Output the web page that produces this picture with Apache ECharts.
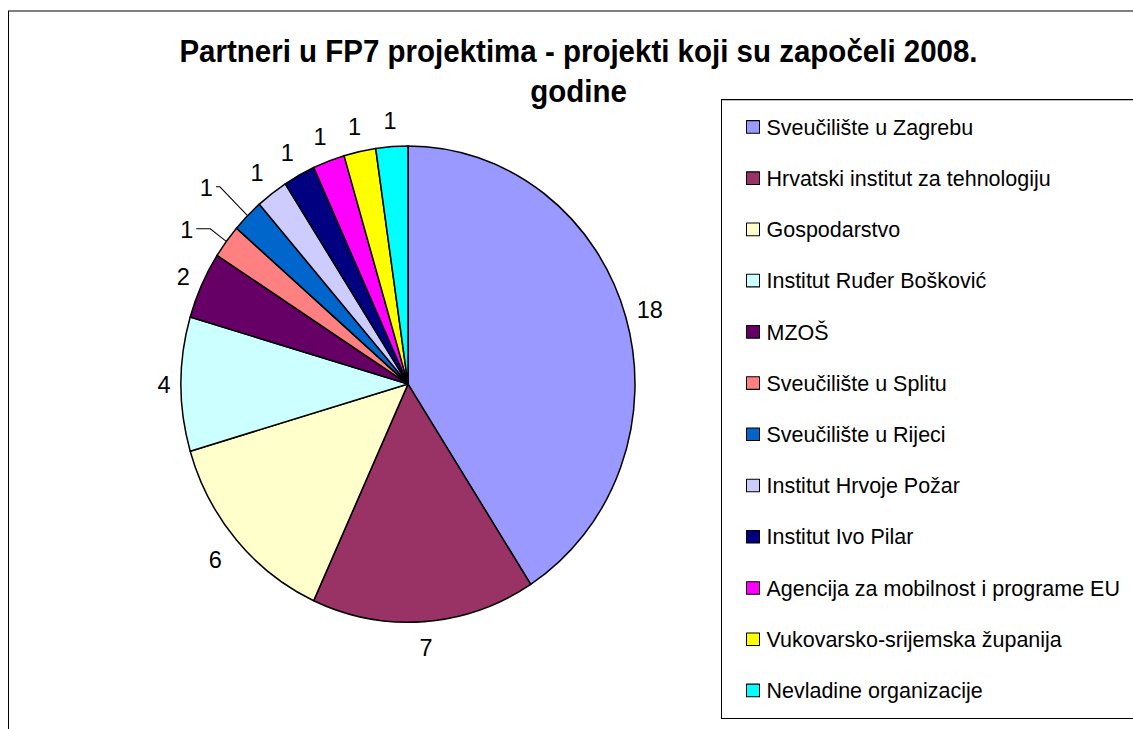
<!DOCTYPE html>
<html>
<head>
<meta charset="utf-8">
<title>Partneri u FP7 projektima</title>
<script src="https://cdn.jsdelivr.net/npm/echarts@6/dist/echarts.min.js"></script>
<style>
  html { overflow: hidden; }
  html, body { margin: 0; padding: 0; background: #fff; }
  body { height: 729px; }
  /* the original picture is stretched a little in height, so the chart is too */
  #main { width: 1133px; height: 695px; transform: scaleY(1.0489); transform-origin: 0 0; }
</style>
</head>
<body>
<div id="main"></div>
<script>
// data
var partners = ['Sveučilište u Zagrebu', 'Hrvatski institut za tehnologiju', 'Gospodarstvo',
  'Institut Ruđer Bošković', 'MZOŠ', 'Sveučilište u Splitu', 'Sveučilište u Rijeci',
  'Institut Hrvoje Požar', 'Institut Ivo Pilar', 'Agencija za mobilnost i programe EU',
  'Vukovarsko-srijemska županija', 'Nevladine organizacije'];
var counts = [18, 7, 6, 4, 2, 1, 1, 1, 1, 1, 1, 1];
var colors = ['#9999FF', '#993366', '#FFFFCC', '#CCFFFF', '#660066', '#FF8080',
  '#0066CC', '#CCCCFF', '#000080', '#FF00FF', '#FFFF00', '#00FFFF'];

// label placement tweaks (style only)
var leaderLines = {
  'Sveučilište u Splitu': { length: 20, length2: 14 },
  'Sveučilište u Rijeci': { length: 39, length2: 4 }
};
var labelGap = { 'Institut Ruđer Bošković': 17, 'MZOŠ': 20, 'Gospodarstvo': 28 };

var font = 'Liberation Sans, Arial, sans-serif';
var myChart = echarts.init(document.getElementById('main'), null, { renderer: 'svg' });

var seriesData = partners.map(function (name, i) {
  var item = { name: name, value: counts[i] };
  if (leaderLines[name]) {
    item.labelLine = { show: true, length: leaderLines[name].length, length2: leaderLines[name].length2 };
    item.label = { distanceToLabelLine: 3 };
  } else {
    item.labelLine = { length: labelGap[name] || 25, length2: 0 };
  }
  return item;
});

var option = {
  color: colors,
  animation: false,
  textStyle: { fontFamily: font },
  title: [{
    text: 'Partneri u FP7 projektima - projekti koji su započeli 2008.\ngodine',
    left: 578.5,
    textAlign: 'center',
    top: 30,
    padding: 0,
    textStyle: { fontSize: 29.5, fontWeight: 'bold', color: '#000', lineHeight: 38, fontFamily: font }
  }],
  graphic: [
    {
      type: 'rect',
      shape: { x: 8.5, y: 10.5, width: 1140, height: 720 },
      style: { fill: 'none', stroke: '#000', lineWidth: 1 },
      silent: true
    },
    {
      type: 'rect',
      shape: { x: 721.5, y: 95, width: 430, height: 590 },
      style: { fill: 'none', stroke: '#000', lineWidth: 1 },
      silent: true
    }
  ],
  legend: {
    orient: 'vertical',
    left: 741,
    top: 105,
    icon: 'rect',
    itemWidth: 13,
    itemHeight: 12,
    itemGap: 26.84,
    data: partners,
    itemStyle: { borderColor: '#000', borderWidth: 1 },
    textStyle: {
      fontSize: 21.5,
      lineHeight: 22,
      color: '#000',
      padding: [0, 0, 0, 2],
      fontFamily: font
    }
  },
  series: [{
    type: 'pie',
    center: [408, 366.2],
    radius: 227,
    startAngle: 90,
    clockwise: true,
    avoidLabelOverlap: false,
    itemStyle: { borderColor: '#000', borderWidth: 1.5 },
    label: {
      show: true,
      position: 'outside',
      formatter: '{c}',
      fontSize: 23.5,
      color: '#000',
      distanceToLabelLine: 0,
      fontFamily: font
    },
    labelLine: { show: false, lineStyle: { color: '#000', width: 1 } },
    labelLayout: function (params) {
      if (leaderLines[partners[params.dataIndex]]) return {};
      return { align: 'center', verticalAlign: 'middle' };
    },
    emphasis: { disabled: true },
    data: seriesData
  }]
};

myChart.setOption(option);
</script>
</body>
</html>
